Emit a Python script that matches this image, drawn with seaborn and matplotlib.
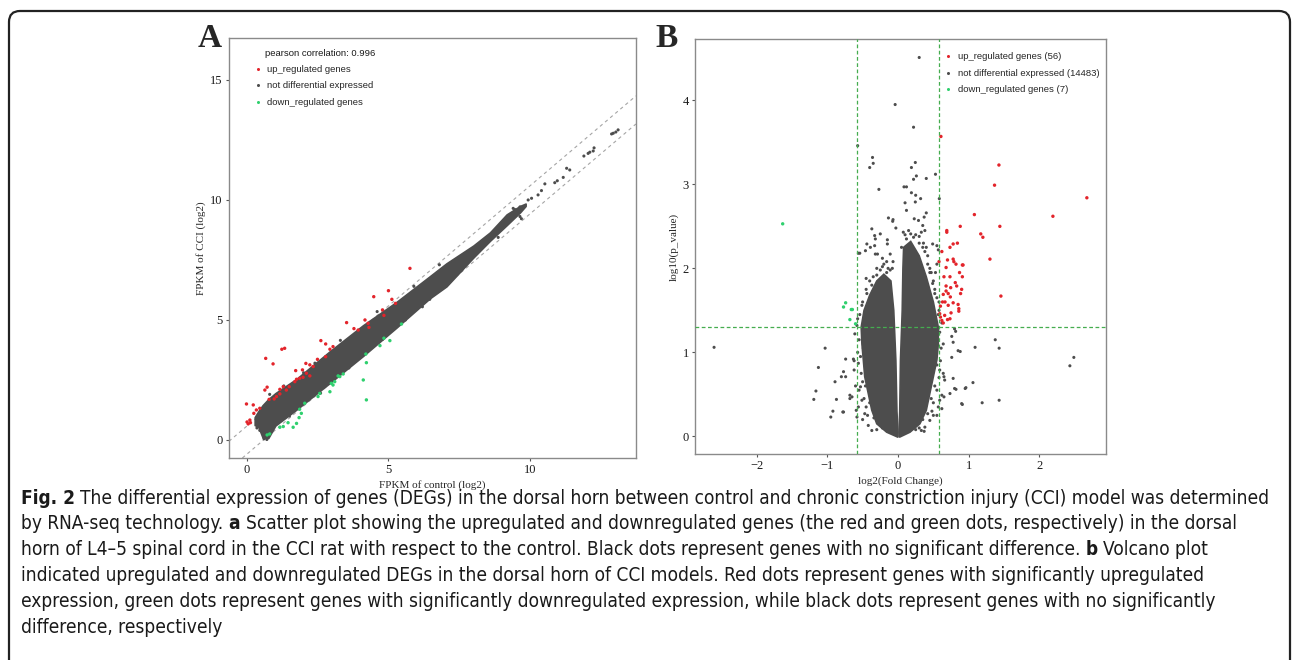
import matplotlib
matplotlib.use("Agg")
import matplotlib.pyplot as plt
import matplotlib.transforms as mtransforms
from matplotlib.patches import FancyBboxPatch
from matplotlib.lines import Line2D
import seaborn as sns

# ---------------- panel A: FPKM scatter (log2) ----------------
band_x = [0.27, 0.40, 0.55, 0.75, 1.00, 1.75, 2.93, 4.10, 5.28, 6.46, 7.05, 8.00, 8.59, 9.18, 9.65, 9.85]
band_hi = [0.95, 1.20, 1.45, 1.70, 1.95, 2.55, 3.70, 4.78, 5.75, 6.82, 7.36, 8.10, 8.65, 9.40, 9.75, 9.85]
band_lo = [0.62, 0.55, 0.10, 0.08, 0.60, 1.27, 2.38, 3.50, 4.68, 5.90, 6.40, 7.60, 8.30, 8.95, 9.48, 9.75]

a_grey_x = [9.41, 9.94, 10.06, 10.29, 10.41, 10.53, 10.88, 10.97, 11.18, 11.30, 11.41, 11.91, 12.06,
            12.12, 12.24, 12.27, 12.89, 12.95, 13.04, 13.12, 9.65, 9.70, 8.88, 8.11, 7.58, 7.52,
            9.65, 9.47, 6.46, 0.45, 0.60, 0.70,
            1.30, 2.40, 3.30, 4.60, 5.90, 6.80, 1.50, 2.60, 3.60, 4.80, 5.60, 6.20, 7.30, 0.35,
            0.80, 2.00]
a_grey_y = [9.65, 10.00, 10.07, 10.21, 10.39, 10.67, 10.72, 10.80, 10.94, 11.32, 11.25, 11.83, 11.94,
            11.99, 12.04, 12.17, 12.75, 12.78, 12.83, 12.92, 9.31, 9.22, 8.44, 7.85, 7.08, 7.32,
            9.71, 9.60, 5.86, 0.40, 0.05, 0.02,
            2.25, 3.20, 4.15, 5.35, 6.40, 7.30, 1.00, 1.95, 3.00, 4.20, 5.00, 5.55, 6.85, 0.50,
            1.90, 2.80]

a_up_x = [5.76, 4.48, 5.00, 5.12, 5.25, 4.79, 4.84, 3.52, 4.17, 4.28, 3.78, 3.93, 4.31, 2.61, 2.78,
          2.93, 3.04, 1.23, 1.33, 0.66, 0.92, 2.78, 2.49, 2.08, 2.22, 2.34, 1.72, 1.96, 2.10, 2.22,
          0.71, 0.63, 1.28, 1.49, 1.16, 1.04, 0.78, 0.96, -0.02, 0.22, 0.45, 0.33, 0.24, 0.10, 0.00,
          0.04, 0.12, 1.69, 1.75, 1.86, 1.98, 1.16, 1.39]
a_up_y = [7.15, 5.97, 6.22, 5.86, 5.69, 5.42, 5.19, 4.89, 5.00, 4.86, 4.64, 4.58, 4.69, 4.14, 4.00,
          3.78, 3.89, 3.78, 3.82, 3.40, 3.17, 3.47, 3.36, 3.19, 3.13, 3.06, 2.89, 2.92, 2.78, 2.67,
          2.20, 2.08, 2.22, 2.22, 1.92, 1.81, 1.69, 1.71, 1.50, 1.46, 1.32, 1.25, 1.11, 0.83, 0.75,
          0.67, 0.72, 2.43, 2.53, 2.57, 2.61, 2.11, 2.08]

a_down_x = [5.46, 4.84, 5.05, 4.70, 4.20, 4.22, 3.40, 3.28, 4.11, 4.22, 3.10, 2.98, 2.93, 2.57,
            2.51, 2.04, 1.86, 1.92, 1.84, 1.75, 1.63, 1.45, 1.28, 1.16, 0.80, 0.71, 3.22, 3.04]
a_down_y = [4.83, 4.24, 4.14, 3.93, 3.58, 3.22, 2.75, 2.64, 2.50, 1.67, 2.43, 2.36, 2.01, 1.94,
            1.81, 1.53, 1.28, 1.11, 0.93, 0.69, 0.53, 0.72, 0.56, 0.53, 0.25, 0.21, 2.67, 2.29]

fc_cut = 0.585     # log2(1.5)
p_cut = 1.301      # -log10(0.05)

# ---------------- panel B: volcano ----------------
lobe_l_x = [0.00, -0.16, -0.30, -0.37, -0.42, -0.47, -0.49, -0.51, -0.52, -0.48, -0.40, -0.30,
            -0.20, -0.10, -0.06, -0.03, -0.015, 0.00]
lobe_l_y = [-0.01, 0.05, 0.15, 0.31, 0.51, 0.71, 0.91, 1.10, 1.30, 1.50, 1.68, 1.85,
            1.93, 1.85, 1.50, 0.90, 0.30, 0.05]
lobe_r_x = [0.015, 0.025, 0.035, 0.06, 0.07, 0.08, 0.18, 0.30, 0.40, 0.50, 0.57, 0.57, 0.55,
            0.50, 0.45, 0.40, 0.31, 0.17, 0.02]
lobe_r_y = [0.05, 0.30, 0.90, 1.50, 2.00, 2.25, 2.32, 2.15, 1.90, 1.60, 1.30, 1.10, 0.91,
            0.71, 0.51, 0.31, 0.15, 0.05, -0.01]

b_grey_x = [0.30, -0.04, 0.22, -0.57, -0.36, -0.35, -0.40, 0.245, 0.19, 0.26, 0.22, 0.40, 0.53,
            -0.27, 0.085, 0.12, 0.19, 0.25, 0.32, 0.584, 0.10, 0.245, 0.12, -0.135, -0.07, -0.075,
            0.23, 0.40, 0.37, 0.29, -0.03, 0.35, -0.37, -0.25, -0.33, 0.075,
            -0.32, -0.15, -0.15, 0.12, 0.18, 0.22, 0.33, 0.38, 0.49, 0.55, 0.57, -0.44, -0.46,
            -0.39, -0.32, -0.22, -0.16, -0.11, -0.07, -0.22, -0.11, -0.30, -0.37, -0.39, -0.33,
            -0.51, -0.54, -0.56, -0.35, -0.16, -0.29, -0.33,
            0.45, 0.50, 0.42, 0.52, 0.35, 0.47, 0.55, 0.30,
            -2.60, -1.03, -1.125, -1.16, -1.19, -0.92, -0.95, -0.78, -0.87, -0.89, -0.80, -0.74,
            -0.74, -0.77, -0.68, -0.65, -0.62, 1.09, 0.96, 1.06, 0.91, 1.19, 1.43, 1.43, 1.375,
            2.43, 2.486, 0.76, 0.88, 0.815, 0.76, 0.735, 0.82, 0.65, 0.65, 0.62, 0.55, 0.33, 0.37,
            -0.61, -0.58, -0.63, -0.62, -0.68, -0.59, -0.58, -0.77, -0.56, -0.53, -0.51, -0.47,
            -0.42, -0.37, 0.59, 0.64, 0.78, 0.85, 0.59, 0.64, 0.66, 0.78, 0.62, 0.59, 0.57, 0.50,
            0.45, 0.38, 0.80, 0.95, 0.90, 0.80,
            -0.50, -0.45, -0.55, -0.52, -0.57, -0.55, -0.57, -0.50, -0.45, -0.40, -0.30, -0.20,
            -0.08, -0.48, -0.43, -0.30, -0.60, -0.54,
            0.50, 0.55, 0.58, 0.60, 0.61, 0.62, 0.58, 0.52, 0.45, 0.38, 0.25, 0.10, 0.05, 0.35,
            0.25, 0.55, 0.48,
            -0.44, -0.36, -0.48, -0.53, -0.50, -0.46, -0.40, -0.34, -0.22, -0.25, -0.14, -0.42,
            -0.56, -0.49, -0.45,
            0.58, 0.55, 0.49, 0.42, 0.36, 0.30, 0.15, 0.55, 0.52, 0.47, 0.42, 0.30, 0.57, 0.53,
            0.40]
b_grey_y = [4.51, 3.95, 3.68, 3.46, 3.32, 3.25, 3.20, 3.26, 3.20, 3.10, 3.06, 3.07, 3.12,
            2.94, 2.97, 2.97, 2.90, 2.87, 2.83, 2.83, 2.78, 2.79, 2.69, 2.60, 2.58, 2.56,
            2.59, 2.66, 2.61, 2.57, 2.48, 2.51, 2.47, 2.41, 2.39, 2.43,
            2.35, 2.34, 2.29, 2.35, 2.41, 2.37, 2.43, 2.45, 2.29, 2.27, 2.22, 2.29, 2.21,
            2.25, 2.17, 2.12, 2.08, 2.17, 2.08, 2.02, 1.98, 1.92, 1.80, 1.66, 1.58,
            1.56, 2.18, 2.18, 1.90, 1.95, 2.17, 2.27,
            2.00, 1.85, 2.15, 1.70, 2.25, 1.95, 2.05, 2.30,
            1.06, 1.05, 0.82, 0.54, 0.44, 0.30, 0.23, 0.29, 0.44, 0.65, 0.71, 0.71,
            0.92, 0.77, 0.49, 0.47, 0.90, 1.06, 0.58, 0.64, 0.38, 0.40, 0.43, 1.05, 1.15,
            0.84, 0.94, 0.94, 1.01, 1.25, 1.19, 0.51, 0.56, 0.71, 0.47, 0.33, 0.25, 0.07, 0.06,
            1.22, 1.32, 0.92, 0.79, 0.45, 0.31, 0.23, 0.29, 0.87, 0.59, 0.43, 0.27,
            0.13, 0.07, 1.24, 1.10, 1.12, 1.02, 0.79, 0.75, 0.67, 0.69, 0.49, 0.43, 0.35, 0.25,
            0.19, 0.11, 0.57, 0.57, 0.39, 1.28,
            0.20, 0.35, 0.55, 0.75, 1.00, 1.15, 1.40, 1.60, 1.75, 1.85, 2.00, 2.05,
            2.00, 0.45, 0.25, 0.08, 0.60, 1.45,
            0.40, 0.55, 0.70, 0.90, 1.05, 1.35, 1.50, 1.75, 1.95, 2.20, 2.40, 2.40, 2.25, 0.20,
            0.08, 1.20, 0.30,
            1.70, 1.72, 1.25, 0.95, 0.65, 0.60, 0.40, 0.22, 0.10, 1.98, 2.00, 1.55,
            0.35, 1.05, 1.88,
            1.60, 1.65, 1.82, 2.05, 2.30, 2.38, 2.45, 0.85, 0.60, 0.45, 0.27, 0.10, 1.45, 1.95,
            2.25]

b_up_x = [0.607, 1.427, 1.365, 2.67, 1.08, 2.19, 0.88, 1.44, 0.69, 0.69, 1.17, 1.20,
          0.735, 0.78, 0.84, 0.58, 0.70, 0.78, 0.82, 0.91, 0.68, 1.30, 0.65, 0.735, 0.91, 0.81,
          0.83, 0.68, 0.745, 1.455, 0.64, 0.71, 0.885, 0.63, 0.665, 0.78, 0.85, 0.71, 0.86, 0.86,
          0.59, 0.62, 0.70, 0.735, 0.64, 0.60, 0.66, 0.75, 0.79, 0.87, 0.62, 0.74, 0.68, 0.90,
          0.60, 0.92]
b_up_y = [3.57, 3.23, 2.99, 2.84, 2.64, 2.62, 2.50, 2.50, 2.45, 2.43, 2.41, 2.37,
          2.25, 2.29, 2.30, 2.08, 2.10, 2.11, 2.05, 2.04, 2.01, 2.11, 1.90, 1.90, 1.90, 1.83,
          1.79, 1.79, 1.77, 1.67, 1.69, 1.70, 1.70, 1.60, 1.60, 1.59, 1.57, 1.56, 1.52, 1.49,
          1.46, 1.38, 1.39, 1.40, 1.35, 1.42, 1.44, 1.47, 2.08, 1.95, 2.20, 1.66, 1.73, 1.75,
          1.55, 2.04]

b_down_x = [-1.63, -0.74, -0.77, -0.66, -0.645, -0.68, -0.60]
b_down_y = [2.53, 1.59, 1.54, 1.51, 1.51, 1.39, 1.34]

# ---------------- caption ----------------
caption = [
    [("Fig. 2", True), ("The differential expression of genes (DEGs) in the dorsal horn between control "
                        "and chronic constriction injury (CCI) model was determined", False)],
    [("by RNA-seq technology.", False), ("a", True),
     ("Scatter plot showing the upregulated and downregulated genes (the red and green dots, "
      "respectively) in the dorsal", False)],
    [("horn of L4\u20135 spinal cord in the CCI rat with respect to the control. Black dots represent "
      "genes with no significant difference.", False), ("b", True), ("Volcano plot", False)],
    [("indicated upregulated and downregulated DEGs in the dorsal horn of CCI models. Red dots "
      "represent genes with significantly upregulated", False)],
    [("expression, green dots represent genes with significantly downregulated expression, while "
      "black dots represent genes with no significantly", False)],
    [("difference, respectively", False)],
]

GREY = "#4d4d4d"
RED = "#e3242b"
GREEN = "#2fd06e"
LINE_GREEN = "#45ad4f"
SERIF = ["Liberation Serif", "DejaVu Serif"]
SANS = ["Liberation Sans", "DejaVu Sans"]
CAPTION_FONT = ["DejaVu Sans"]

sns.set_style("white")
plt.rcParams["font.family"] = SERIF
plt.rcParams["axes.unicode_minus"] = True

fig = plt.figure(figsize=(12.92, 6.6), dpi=100)
ax_a = fig.add_axes([0.1772, 0.3061, 0.3150, 0.6364])
ax_b = fig.add_axes([0.5379, 0.3121, 0.3181, 0.6288])


def style_axes(ax):
    for sp in ax.spines.values():
        sp.set_visible(True)
        sp.set_color("#8a8a8a")
        sp.set_linewidth(1.0)
    ax.tick_params(axis="both", direction="out", length=2.5, width=0.8, color="#555555",
                   labelsize=9, pad=2, labelcolor="#1a1a1a", left=True, bottom=True)
    ax.grid(False)


def dots(ax, x, y, color, size):
    sns.scatterplot(x=x, y=y, ax=ax, color=color, s=size, linewidth=0, edgecolor="none",
                    legend=False, zorder=3)


# panel A
ax_a.fill_between(band_x, band_lo, band_hi, color=GREY, lw=1.2, edgecolor=GREY, zorder=2)
dots(ax_a, a_grey_x, a_grey_y, GREY, 5)
dots(ax_a, a_up_x, a_up_y, RED, 6)
dots(ax_a, a_down_x, a_down_y, GREEN, 6)
ax_a.axline((0, fc_cut), slope=1, color="#a5a5a5", lw=0.8, ls=(0, (3, 3)), zorder=1)
ax_a.axline((0, -fc_cut), slope=1, color="#a5a5a5", lw=0.8, ls=(0, (3, 3)), zorder=1)
ax_a.set_xlim(-0.64, 13.75)
ax_a.set_ylim(-0.75, 16.75)
ax_a.set_xticks([0, 5, 10])
ax_a.set_yticks([0, 5, 10, 15])
ax_a.set_xlabel("FPKM of control (log2)", fontsize=8, labelpad=3)
ax_a.set_ylabel("FPKM of CCI (log2)", fontsize=8, labelpad=3)
style_axes(ax_a)

# panel B
ax_b.fill(lobe_l_x, lobe_l_y, color=GREY, lw=1.2, edgecolor=GREY, zorder=2)
ax_b.fill(lobe_r_x, lobe_r_y, color=GREY, lw=1.2, edgecolor=GREY, zorder=2)
dots(ax_b, b_grey_x, b_grey_y, GREY, 5)
dots(ax_b, b_up_x, b_up_y, RED, 6)
dots(ax_b, b_down_x, b_down_y, GREEN, 6)
for xv in (-fc_cut, fc_cut):
    ax_b.axvline(xv, color=LINE_GREEN, lw=0.9, ls=(0, (3, 2)), zorder=4)
ax_b.axhline(p_cut, color=LINE_GREEN, lw=0.9, ls=(0, (3, 2)), zorder=4)
ax_b.set_xlim(-2.87, 2.94)
ax_b.set_ylim(-0.21, 4.73)
ax_b.set_xticks([-2, -1, 0, 1, 2])
ax_b.set_yticks([0, 1, 2, 3, 4])
ax_b.set_xlabel("log2(Fold Change)", fontsize=8, labelpad=3)
ax_b.set_ylabel("log10(p_value)", fontsize=8, labelpad=3)
style_axes(ax_b)


def key(color):
    return Line2D([], [], marker="o", linestyle="", markersize=2.2, color=color, markeredgewidth=0)


leg_kw = dict(frameon=False, loc="upper left", handlelength=0.8, handletextpad=0.6,
              labelspacing=0.8, borderpad=0, borderaxespad=0,
              prop={"family": SANS, "size": 6.8})
ax_a.text(0.088, 0.962, "pearson correlation: 0.996", transform=ax_a.transAxes, family=SANS,
          fontsize=6.8, va="center", ha="left", color="#1a1a1a")
ax_a.legend([key(RED), key(GREY), key(GREEN)],
            ["up_regulated genes", "not differential expressed", "down_regulated genes"],
            bbox_to_anchor=(0.062, 0.936), **leg_kw)
ax_b.legend([key(RED), key(GREY), key(GREEN)],
            ["up_regulated genes (56)", "not differential expressed (14483)", "down_regulated genes (7)"],
            bbox_to_anchor=(0.607, 0.968), **leg_kw)

# panel letters
fig.text(0.1625, 0.941, "A", family=SERIF, fontsize=24, fontweight="bold", ha="center", va="center")
fig.text(0.516, 0.941, "B", family=SERIF, fontsize=24, fontweight="bold", ha="center", va="center")

# outer rounded frame (pixel units)
frame = FancyBboxPatch((9, -30), 1281, 660 - 11 + 30, boxstyle="round,pad=0,rounding_size=11",
                       transform=mtransforms.IdentityTransform(), fill=False, lw=1.6,
                       edgecolor="#222222", clip_on=False)
fig.add_artist(frame)

# caption, sized so the first line spans the same width as the reference
renderer = fig.canvas.get_renderer()
W, H = fig.bbox.width, fig.bbox.height


def put_line(segs, size, x_px, y_frac):
    sp_a = fig.text(0, 0, "a a", fontsize=size, family=CAPTION_FONT, fontstretch="condensed")
    sp_b = fig.text(0, 0, "aa", fontsize=size, family=CAPTION_FONT, fontstretch="condensed")
    space = sp_a.get_window_extent(renderer).width - sp_b.get_window_extent(renderer).width
    sp_a.remove()
    sp_b.remove()
    items = []
    x = x_px
    for s, b in segs:
        t = fig.text(x / W, y_frac, s, fontsize=size, family=CAPTION_FONT, fontstretch="condensed",
                     fontweight="bold" if b else "normal", ha="left", va="center", color="#1a1a1a")
        items.append(t)
        x = t.get_window_extent(renderer).x1 + space
    return items, x - space


trial, end = put_line(caption[0], 12, 21, 0.5)
for t in trial:
    t.remove()
cap_size = 12 * (1272 - 21) / (end - 21)

y0_px, step_px = 498, 25.9
for i, segs in enumerate(caption):
    put_line(segs, cap_size, 21, 1 - (y0_px + i * step_px) / H)

fig.savefig("out.png", dpi=100, facecolor="white")
plt.close(fig)
